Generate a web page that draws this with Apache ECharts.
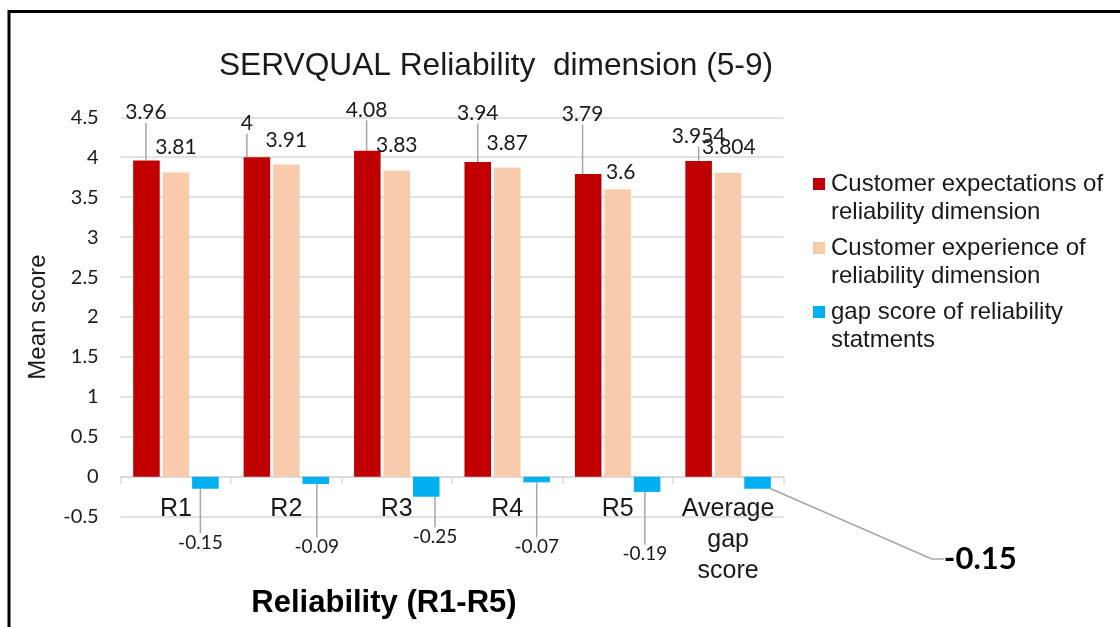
<!DOCTYPE html>
<html><head><meta charset="utf-8">
<script src="https://cdn.jsdelivr.net/npm/echarts@6/dist/echarts.min.js"></script>
<style>html,body{margin:0;padding:0;background:#fff}#c{width:1120px;height:627px}</style>
</head><body><div id="c"></div>
<script>
// ---- data ----
const categories = ['R1', 'R2', 'R3', 'R4', 'R5', 'Average gap score'];
const expectations = [3.96, 4, 4.08, 3.94, 3.79, 3.954];
const experience = [3.81, 3.91, 3.83, 3.87, 3.6, 3.804];
const gapScores = [-0.15, -0.09, -0.25, -0.07, -0.19, -0.15];
const seriesNames = [
  'Customer expectations of reliability dimension',
  'Customer experience of reliability dimension',
  'gap score of reliability statments'
];
const yMin = -0.5, yMax = 4.5, yStep = 0.5;

// ---- label placement offsets (px, relative to bar top/bottom centre) ----
const expLabelOffsets = [[-0.5, -48], [-10, -34], [-0.7, -41], [0, -49], [-5.6, -60], [0, -25]];
const expcLabelOffsets = [[0, -25], [0, -24.4], [0, -25.8], [0, -24.6], [3, -16.7], [0.75, -25.4]];
const gapLabelOffsets = [[-5, 54], [1, 63], [8.75, 40], [0, 64.7], [-2.25, 62], [222.75, 70.3]];

const NUM_FONT = 'Lato, "Noto Sans", sans-serif';
const TXT_FONT = '"Liberation Sans", Arial, sans-serif';
const LEADER = { color: '#a6a6a6', width: 1.5 };

function layoutAbove(offsets) {
  return function (p) {
    const r = p.rect;
    const top = Math.min(r.y, r.y + r.height);
    const o = offsets[p.dataIndex];
    return { x: r.x + r.width / 2 + o[0], y: top + o[1], align: 'center', verticalAlign: 'middle' };
  };
}
function layoutBelow(offsets) {
  return function (p) {
    const r = p.rect;
    const bottom = Math.max(r.y, r.y + r.height);
    const o = offsets[p.dataIndex];
    return { x: r.x + r.width / 2 + o[0], y: bottom + o[1], align: 'center', verticalAlign: 'middle' };
  };
}

const gapData = gapScores.map(function (v, i) {
  if (i === gapScores.length - 1) {
    return { value: v, label: { fontSize: 31, fontWeight: 'bold', color: '#000' }, labelLine: { length2: 12 } };
  }
  return v;
});

const chart = echarts.init(document.getElementById('c'), null, { renderer: 'canvas' });
chart.setOption({
  animation: false,
  backgroundColor: '#ffffff',
  title: {
    text: 'SERVQUAL Reliability  dimension (5-9)',
    left: 496, top: 50, textAlign: 'center', padding: 0,
    textStyle: { fontFamily: TXT_FONT, fontSize: 31.7, fontWeight: 'normal', color: '#1a1a1a' }
  },
  graphic: [
    { type: 'line', shape: { x1: 8, y1: 11.5, x2: 1120, y2: 11.5 }, style: { stroke: '#000', lineWidth: 3 }, silent: true },
    { type: 'line', shape: { x1: 9, y1: 10, x2: 9, y2: 627 }, style: { stroke: '#000', lineWidth: 3 }, silent: true }
  ],
  legend: {
    orient: 'vertical', left: 813, top: 142, padding: 0,
    itemWidth: 12, itemHeight: 12, itemGap: -20,
    icon: 'rect',
    formatter: function (name) {
      return '\n' + name.replace(/ (reliability dimension|statments)$/, '\n$1');
    },
    textStyle: { fontFamily: TXT_FONT, fontSize: 24, lineHeight: 28, color: '#1a1a1a', padding: [0, 0, 0, 1] },
    data: seriesNames
  },
  grid: { left: 120.7, right: 336.7, top: 117.3, bottom: 110.3, containLabel: false, outerBoundsMode: 'none' },
  xAxis: {
    type: 'category',
    data: categories,
    axisLine: { onZero: true, lineStyle: { color: '#d9d9d9', width: 1.5 } },
    axisTick: { show: true, length: 7, lineStyle: { color: '#d9d9d9', width: 1.5 } },
    axisLabel: {
      interval: 0, hideOverlap: false,
      margin: -23, fontFamily: TXT_FONT, fontSize: 25, lineHeight: 31, color: '#1a1a1a',
      formatter: function (v) { return v.split(' ').join('\n'); }
    },
    name: 'Reliability (R1-R5)',
    nameLocation: 'middle', nameGap: 71, nameMoveOverlap: false,
    nameTextStyle: { fontFamily: TXT_FONT, fontSize: 31, fontWeight: 'bold', color: '#000', padding: [0, 136, 0, 0] }
  },
  yAxis: {
    type: 'value', min: yMin, max: yMax, interval: yStep,
    axisLine: { show: false }, axisTick: { show: false },
    splitLine: { lineStyle: { color: '#d9d9d9', width: 1.5 } },
    axisLabel: { margin: 22, fontFamily: NUM_FONT, fontSize: 20, color: '#1a1a1a' },
    name: 'Mean score', nameLocation: 'middle', nameGap: 70, nameMoveOverlap: false,
    nameTextStyle: { fontFamily: TXT_FONT, fontSize: 24, color: '#1a1a1a' }
  },
  series: [
    {
      name: seriesNames[0], type: 'bar', data: expectations,
      barCategoryGap: '22.6%', barGap: '11%',
      itemStyle: { color: '#C00000' },
      label: { show: true, fontFamily: NUM_FONT, fontSize: 21, color: '#1a1a1a' },
      labelLayout: layoutAbove(expLabelOffsets),
      labelLine: { show: true, lineStyle: LEADER }
    },
    {
      name: seriesNames[1], type: 'bar', data: experience,
      itemStyle: { color: '#F8CBAD' },
      label: { show: true, fontFamily: NUM_FONT, fontSize: 21, color: '#1a1a1a' },
      labelLayout: layoutAbove(expcLabelOffsets)
    },
    {
      name: seriesNames[2], type: 'bar', data: gapData,
      itemStyle: { color: '#00B0F0' },
      label: { show: true, fontFamily: NUM_FONT, fontSize: 19, color: '#1a1a1a' },
      labelLayout: layoutBelow(gapLabelOffsets),
      labelLine: { show: true, lineStyle: LEADER }
    }
  ]
});
</script>
</body></html>
